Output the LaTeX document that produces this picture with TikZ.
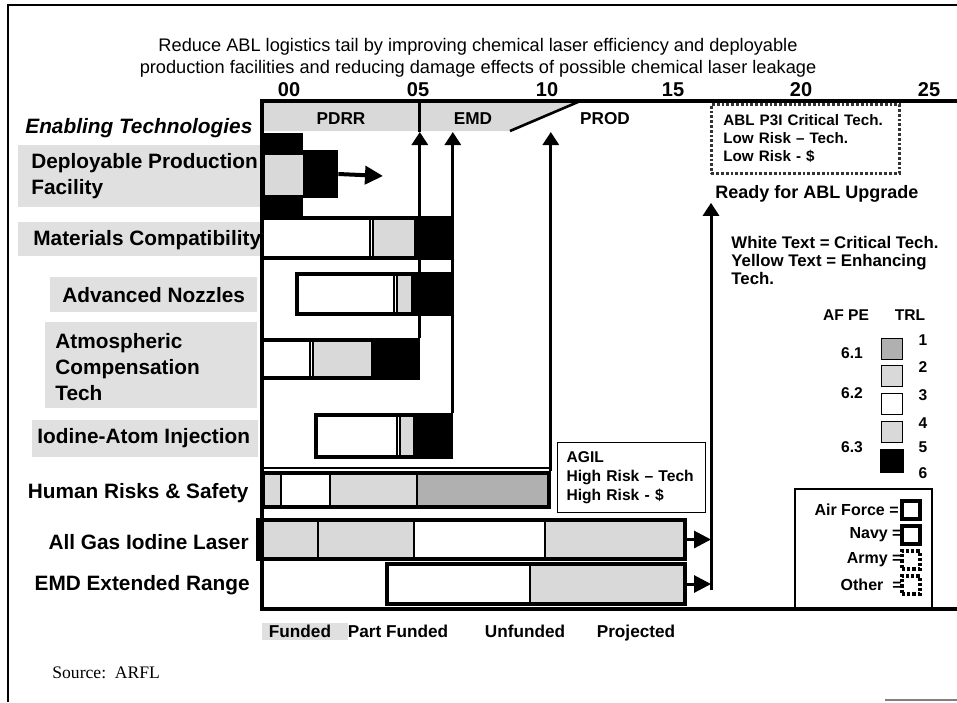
\documentclass[tikz,border=0pt]{standalone}
\usepackage{fontspec}
\setmainfont{Liberation Sans}
\newfontfamily\srcfont{Liberation Serif}
\usetikzlibrary{arrows.meta, fit}

\colorlet{stipple}{gray!30}
\colorlet{stippledark}{gray!62}
\colorlet{lblgray}{gray!24}

\begin{document}
\begin{tikzpicture}[
    x=0.5pt, y=-0.5pt,
    frame/.style={draw=black, line width=1.8pt},
    lblbox/.style={fill=lblgray, inner sep=0pt},
    tech/.style={font=\fontsize{10.4}{13}\selectfont\bfseries, align=left, inner sep=0pt, anchor=west},
    year/.style={font=\fontsize{10}{12}\selectfont\bfseries, inner sep=0pt},
    phase/.style={font=\fontsize{8.6}{10}\selectfont\bfseries, inner sep=0pt},
    bar/.style={draw=black, line width=1.8pt, inner sep=0pt},
    seg/.style={draw=black, line width=1.2pt},
    note/.style={font=\fontsize{7.8}{9.5}\selectfont\bfseries, align=left, inner sep=0pt},
    fund/.style={font=\fontsize{8.6}{10}\selectfont\bfseries, inner sep=0pt, anchor=base},
    key/.style={draw=black, line width=0.6pt, minimum size=10.5pt, inner sep=0pt},
    svc/.style={draw=black, line width=1.6pt, minimum size=9pt, inner sep=0pt},
    uparrow/.style={line width=1.5pt, -{Triangle[length=6.5pt, width=8pt]}},
    barrow/.style={line width=1.5pt, -{Triangle[length=8.5pt, width=8.5pt]}}
]
\useasboundingbox (0,0) rectangle (957,702);

% Page frame
\draw[line width=1pt] (8,702) -- (8,5) -- (957,5);
\draw[gray, line width=0.8pt] (885,700) -- (957,700);

% Title
\node[font=\fontsize{9.1}{11}\selectfont, align=center] (title) at (478,58)
    {Reduce ABL logistics tail by improving chemical laser efficiency and deployable\\
     production facilities and reducing damage effects of possible chemical laser leakage};

% Years
\node[year] (y00) at (289,90) {00};
\node[year] (y05) at (418,90) {05};
\node[year] (y10) at (547,90) {10};
\node[year] (y15) at (673,90) {15};
\node[year] (y20) at (801,90) {20};
\node[year] (y25) at (929,90) {25};

% Phases
\fill[stipple] (263,103) -- (578,103) -- (510,131) -- (263,131) -- cycle;
\draw[line width=1.3pt] (510,131) -- (578,102);
\node[phase] (pdrr) at (341,119) {PDRR};
\node[phase] (emd) at (473,119) {EMD};
\node[phase] (prod) at (605,119) {PROD};

% Technology labels
\node[tech, font=\fontsize{10.4}{13}\selectfont\bfseries\itshape] (enab) at (25,128) {Enabling Technologies};
\node[lblbox, fit={(18,145) (262,207)}] (dpfbox) {};
\node[tech] (dpf) at (31,176) {Deployable Production\\Facility};
\node[lblbox, fit={(18,222) (262,256)}] (matbox) {};
\node[tech] (mat) at (33,240) {Materials Compatibility};
\node[lblbox, fit={(50,277) (257,312)}] (nozbox) {};
\node[tech] (noz) at (62,295) {Advanced Nozzles};
\node[lblbox, fit={(45,322) (257,408)}] (atmbox) {};
\node[tech] (atm) at (55,367) {Atmospheric\\Compensation\\Tech};
\node[lblbox, fit={(32,420) (258,457)}] (iodbox) {};
\node[tech] (iod) at (37,438) {Iodine-Atom Injection};
\node[tech, anchor=east] (hrs) at (249,493) {Human Risks \& Safety};
\node[tech, anchor=east] (agl) at (249,542) {All Gas Iodine Laser};
\node[tech, anchor=east] (emr) at (250,585) {EMD Extended Range};

% Bars
\node[fill=black, inner sep=0pt, fit={(262,133) (303,217)}] (dpfblk) {};
\fill[stipple] (265,155) rectangle (303,195);
\node[fill=black, inner sep=0pt, fit={(303,150) (338,198)}] (dpfbar) {};
\coordinate (dpfend) at (383,176);
\draw[line width=2pt, -{Triangle[length=9pt, width=9pt]}] (dpfbar.east) -- (dpfend);

\filldraw[seg, fill=white] (262,218) rectangle (370,258);
\filldraw[seg, fill=stipple] (373,218) rectangle (415,258);
\fill (415,218) rectangle (451,258);
\node[bar, fit={(262,218) (451,258)}] (matbar) {};

\filldraw[seg, fill=white] (297,274) rectangle (394,314);
\filldraw[seg, fill=stipple] (397,274) rectangle (412,314);
\fill (412,274) rectangle (451,314);
\node[bar, fit={(297,274) (451,314)}] (nozbar) {};

\filldraw[seg, fill=white] (262,340) rectangle (310,378);
\filldraw[seg, fill=stipple] (313,340) rectangle (372,378);
\fill (372,340) rectangle (418,378);
\node[bar, fit={(262,340) (418,378)}] (atmbar) {};

\filldraw[seg, fill=white] (316,415) rectangle (397,457);
\filldraw[seg, fill=stipple] (400,415) rectangle (414,457);
\fill (414,415) rectangle (451,457);
\node[bar, fit={(316,415) (451,457)}] (iodbar) {};

\filldraw[seg, fill=stipple] (263,473) rectangle (281,507);
\filldraw[seg, fill=white] (281,473) rectangle (330,507);
\filldraw[seg, fill=stipple] (330,473) rectangle (417,507);
\filldraw[seg, fill=stippledark] (417,473) rectangle (549,507);
\node[bar, fit={(263,473) (549,507)}] (hrsbar) {};

\filldraw[seg, fill=stipple] (258,520) rectangle (318,559);
\filldraw[seg, fill=stipple] (318,520) rectangle (414,559);
\filldraw[seg, fill=white] (414,520) rectangle (545,559);
\filldraw[seg, fill=stipple] (545,520) rectangle (685,559);
\node[bar, fit={(258,520) (685,559)}] (aglbar) {};

\filldraw[seg, fill=white] (387,564) rectangle (530,604);
\filldraw[seg, fill=stipple] (530,564) rectangle (685,604);
\node[bar, fit={(387,564) (685,604)}] (emrbar) {};

% Chart frame
\draw[frame] (957,101) -- (262,101) -- (262,609) -- (957,609);
\draw[line width=1.2pt] (262,468) -- (549,468);

% Milestone arrows
\coordinate (top) at (0,101);
\coordinate (tip) at (0,132);
\draw[line width=1.5pt] (atmbar.north east |- tip) -- (atmbar.north east |- top);
\draw[uparrow] (atmbar.north east) -- (atmbar.north east |- tip);
\draw[uparrow] (iodbar.north east) -- (iodbar.north east |- tip);
\draw[uparrow] (hrsbar.north east) -- (hrsbar.north east |- tip);

% Upgrade path
\node[font=\fontsize{9}{11}\selectfont\bfseries, inner sep=0pt, anchor=west] (ready) at (715,194) {Ready for ABL Upgrade};
\coordinate (join) at (711,590);
\draw[uparrow] (join) -- (join |- ready.south);
\draw[barrow] (aglbar.east) -- (aglbar.east -| join);
\draw[barrow] (emrbar.east) -- (emrbar.east -| join);

% Notes
\node[note, draw=black!80, line width=1.4pt, densely dotted, anchor=north west, text width=82pt,
      inner xsep=6pt, minimum height=34.5pt, font=\fontsize{7.6}{9}\selectfont\bfseries] (p3i) at (710,103)
    {ABL P3I Critical Tech.\\Low Risk – Tech.\\Low Risk - \$};
\node[note, draw=black, line width=0.6pt, anchor=north west, text width=65pt,
      inner xsep=4.5pt, minimum height=35pt] (agil) at (557,442)
    {AGIL\\High Risk – Tech\\High Risk - \$};
\node[note, anchor=north west, font=\fontsize{8.4}{9}\selectfont\bfseries] (crit) at (731,236)
    {White Text = Critical Tech.\\Yellow Text = Enhancing\\Tech.};

% TRL legend
\node[note] (afpe) at (846,315) {AF PE};
\node[note] (trl) at (910,315) {TRL};
\node[note] (pe61) at (852,353) {6.1};
\node[note] (pe62) at (852,393) {6.2};
\node[note] (pe63) at (852,447) {6.3};
\node[key, fill=stippledark] (key1) at (892,349) {};
\node[key, fill=stipple] (key2) at (892,376) {};
\node[key, fill=white] (key3) at (892,404) {};
\node[key, fill=stipple] (key4) at (892,432) {};
\node[key, fill=black, minimum size=11pt] (key6) at (892,461) {};
\foreach \n/\y in {1/340, 2/367, 3/395, 4/423, 5/447, 6/473}
    \node[note] (num\n) at (923,\y) {\n};

% Service legend
\node[draw=black, line width=0.8pt, inner sep=0pt, fit={(795,489) (932,609)}] (svcbox) {};
\node[note, anchor=east, font=\fontsize{8}{10}\selectfont\bfseries] (af) at (899,510) {Air Force =};
\node[note, anchor=east, font=\fontsize{8}{10}\selectfont\bfseries] (navy) at (902,535) {Navy =};
\node[note, anchor=east, font=\fontsize{8}{10}\selectfont\bfseries] (army) at (902,560) {Army =};
\node[note, anchor=east, font=\fontsize{8}{10}\selectfont\bfseries] (other) at (902,585) {Other\ \ =};
\node[svc] (afkey) at (911,510) {};
\node[svc] (navykey) at (911,535) {};
\node[svc, densely dotted] (armykey) at (911,560) {};
\node[svc, densely dotted] (otherkey) at (911,585) {};

% Funding legend
\node[lblbox, fit={(262,623) (348,640)}] (fundbox) {};
\node[fund] (funded) at (300,637) {Funded};
\node[fund] (part) at (398,637) {Part Funded};
\node[fund] (unfunded) at (525,637) {Unfunded};
\node[fund] (projected) at (636,637) {Projected};

% Source
\node[font=\srcfont\fontsize{8.8}{11}\selectfont, inner sep=0pt, anchor=west] (src) at (52,673) {Source:\ \ ARFL};

\end{tikzpicture}
\end{document}
